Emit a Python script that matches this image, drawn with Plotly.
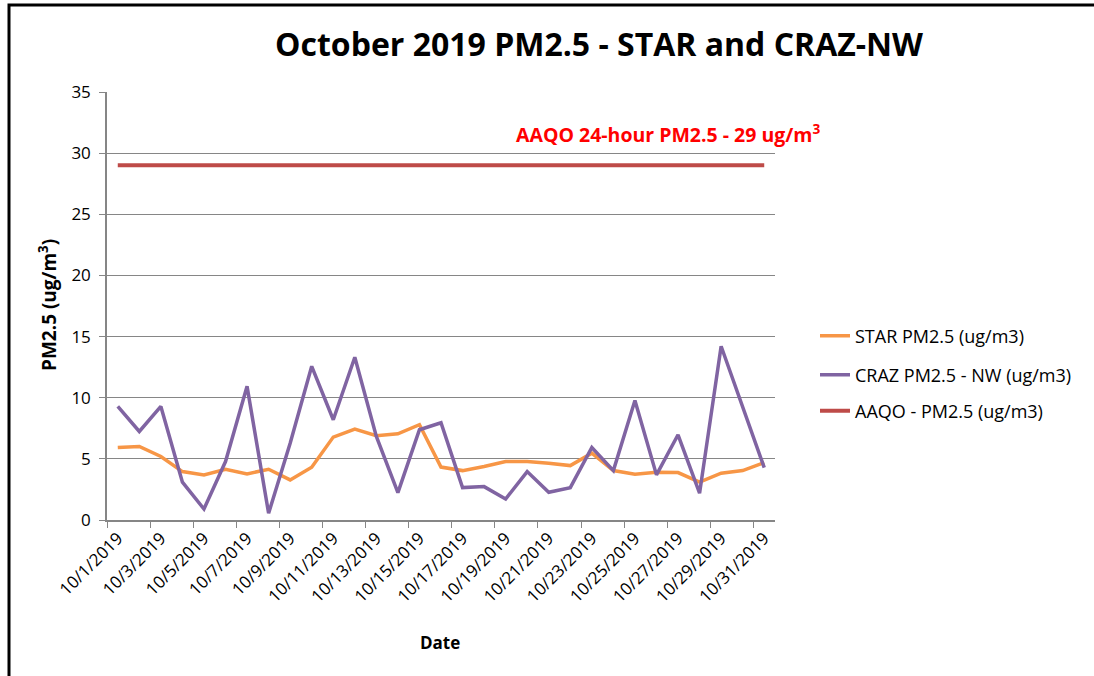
import plotly.graph_objects as go

dates = [f"10/{d}/2019" for d in range(1, 32)]
star = [5.93, 6.01, 5.19, 3.96, 3.69, 4.15, 3.77, 4.15, 3.28, 4.32, 6.78, 7.43, 6.89, 7.05, 7.79, 4.33,
        4.04, 4.37, 4.78, 4.78, 4.64, 4.45, 5.46, 4.04, 3.74, 3.91, 3.88, 3.09, 3.83, 4.04, 4.70]
craz = [9.29, 7.24, 9.29, 3.09, 0.90, 4.78, 10.93, 0.55, 6.28, 12.57, 8.20, 13.31, 6.83, 2.24, 7.38, 7.95,
        2.65, 2.73, 1.72, 3.96, 2.27, 2.65, 5.93, 4.04, 9.78, 3.69, 6.97, 2.19, 14.21, 9.15, 4.29]
aaqo = [29] * 31

FONT = "Open Sans"
W, H = 1094, 676
L, R, T, B = 107, 775, 92, 520  # plot area in screenshot pixels

def px(x):
    return (x - L) / (R - L)

def py(y):
    return (B - y) / (B - T)

fig = go.Figure()
fig.add_trace(go.Scatter(x=dates, y=star, mode="lines", name="STAR PM2.5 (ug/m3)",
                         line=dict(color="#F79646", width=3.5), legend="legend", showlegend=True))
fig.add_trace(go.Scatter(x=dates, y=craz, mode="lines", name="CRAZ PM2.5 - NW (ug/m3)",
                         line=dict(color="#8064A2", width=3.5), legend="legend2", showlegend=True))
fig.add_trace(go.Scatter(x=dates, y=aaqo, mode="lines", name="AAQO - PM2.5 (ug/m3)",
                         line=dict(color="#BE4B48", width=4), legend="legend3", showlegend=True))

leg_common = dict(xanchor="left", yanchor="middle", bgcolor="rgba(0,0,0,0)",
                  font=dict(family=FONT, size=18, color="#000"))

fig.update_layout(
    width=W, height=H, showlegend=True,
    margin=dict(l=L, r=W - R, t=T, b=H - B),
    paper_bgcolor="white", plot_bgcolor="white",
    font=dict(family=FONT, color="#000"),
    title=dict(text="<b>October 2019 PM2.5 - STAR and CRAZ-NW</b>", x=599 / W, xanchor="center",
               y=1 - 45 / H, yanchor="middle", font=dict(family=FONT, size=32, color="#000")),
    legend=dict(x=px(815), y=py(336), **leg_common),
    legend2=dict(x=px(815), y=py(375), **leg_common),
    legend3=dict(x=px(815), y=py(411), **leg_common),
    xaxis=dict(type="category", range=[-0.5, 30.5], tickangle=-45, dtick=2, tickson="boundaries",
               ticks="outside", ticklen=6, tickcolor="#868686", showline=True, linecolor="#868686",
               linewidth=1.5, showgrid=False, tickfont=dict(family=FONT, size=17, color="#000")),
    yaxis=dict(range=[0, 35], dtick=5, ticks="outside", ticklen=6, tickcolor="#868686",
               ticklabelstandoff=5,
               showline=True, linecolor="#868686", linewidth=1.5, showgrid=True, gridcolor="#868686",
               gridwidth=1, zeroline=False, tickfont=dict(family=FONT, size=17, color="#000")),
    annotations=[
        dict(text="<b>AAQO 24-hour PM2.5 - 29 ug/m<sup>3</sup></b>", x=px(668), y=py(133),
             xref="paper", yref="paper", showarrow=False, xanchor="center", yanchor="middle",
             font=dict(family=FONT, size=19.5, color="#FF0000")),
        dict(text="<b>PM2.5 (ug/m<sup>3</sup>)</b>", x=px(48), y=py(305), textangle=-90,
             xref="paper", yref="paper", showarrow=False, xanchor="center", yanchor="middle",
             font=dict(family=FONT, size=19, color="#000")),
        dict(text="<b>Date</b>", x=px(440), y=py(642),
             xref="paper", yref="paper", showarrow=False, xanchor="center", yanchor="middle",
             font=dict(family=FONT, size=17, color="#000")),
    ],
    shapes=[dict(type="rect", xref="paper", yref="paper", x0=px(9), x1=px(1110), y0=py(5), y1=py(700),
                 line=dict(color="#000", width=3), fillcolor="rgba(0,0,0,0)", layer="above")],
)

fig.write_html("out.html", config={"displayModeBar": False},
               post_script="document.body.style.margin='0';document.body.style.overflow='hidden';")
